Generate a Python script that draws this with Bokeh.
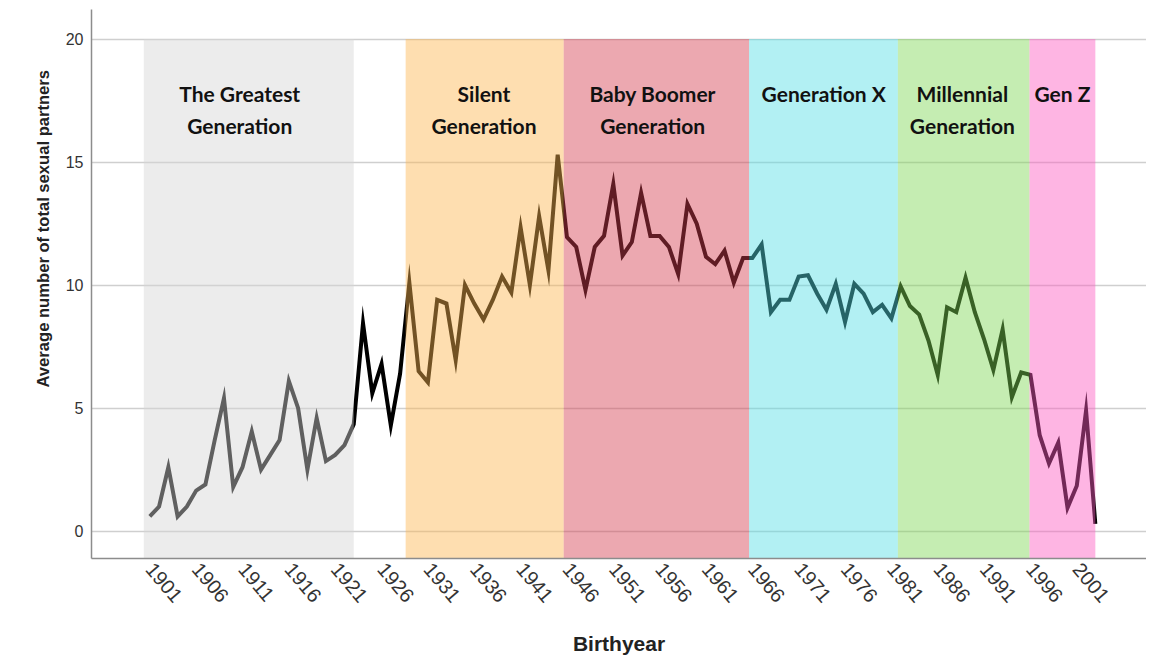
from math import pi
from bokeh.plotting import figure
from bokeh.models import Range1d, FixedTicker, Title, ColumnDataSource
from bokeh.core.properties import value
from bokeh.embed import file_html
from bokeh.resources import INLINE

# ---------------- data ----------------
years = list(range(1901, 2004))
partners = [
    0.6, 1.0, 2.6, 0.6, 1.0, 1.65, 1.9, 3.7, 5.4, 1.8,          # 1901-1910
    2.6, 4.05, 2.5, 3.1, 3.7, 6.1, 5.0, 2.5, 4.6, 2.85,        # 1911-1920
    3.1, 3.5, 4.35, 8.45, 5.6, 6.8, 4.3, 6.4, 10.1, 6.5,       # 1921-1930
    6.05, 9.4, 9.25, 6.95, 10.0, 9.25, 8.6, 9.4, 10.35, 9.7,   # 1931-1940
    12.35, 10.0, 12.8, 10.6, 15.3, 11.95, 11.55, 9.8, 11.55, 12.0,  # 1941-1950
    14.1, 11.2, 11.75, 13.75, 12.0, 12.0, 11.55, 10.45, 13.3, 12.5,  # 1951-1960
    11.15, 10.85, 11.4, 10.1, 11.1, 11.1, 11.65, 8.9, 9.4, 9.4,    # 1961-1970
    10.35, 10.4, 9.65, 9.0, 10.05, 8.5, 10.05, 9.65, 8.9, 9.2,     # 1971-1980
    8.65, 9.95, 9.15, 8.8, 7.75, 6.35, 9.1, 8.9, 10.3, 8.9,        # 1981-1990
    7.8, 6.55, 8.2, 5.45, 6.45, 6.35, 3.9, 2.75, 3.6, 0.95,        # 1991-2000
    1.85, 4.9, 0.3,                                                # 2001-2003
]

tick_years = list(range(1901, 2002, 5))
y_ticks = [0, 5, 10, 15, 20]

gen_line1 = ["The Greatest", "Silent", "Baby Boomer", "Generation X", "Millennial", "Gen Z"]
gen_line2 = ["Generation", "Generation", "Generation", "", "Generation", ""]
gen_start = [1900.35, 1928.6, 1945.65, 1965.65, 1981.7, 1995.9]
gen_end = [1923.0, 1945.65, 1965.65, 1981.7, 1995.9, 2003.0]
gen_colors = ["#d5d5d5", "#fdb64f", "#d53e4f", "#54dee4", "#7ed754", "#fd5bc1"]
gen_label_x = [1910.7, 1937.05, 1955.25, 1973.7, 1988.65, 1999.45]

x_title = "Birthyear"
y_title = "Average number of total sexual partners"

# ---------------- figure ----------------
y0, y1 = -1.11, 21.2
p = figure(width=1146, height=659,
           x_range=Range1d(1894.71, 2008.52), y_range=Range1d(y0, y1),
           output_backend="svg", toolbar_location=None,
           min_border_left=91, min_border_right=0,
           min_border_top=9, min_border_bottom=101)
p.outline_line_color = None
p.background_fill_color = "white"
p.border_fill_color = "white"

# grid
p.xgrid.visible = False
p.ygrid.ticker = FixedTicker(ticks=y_ticks)
p.ygrid.grid_line_color = "#cfcfcf"
p.ygrid.grid_line_width = 1.5

# axes
p.yaxis.ticker = FixedTicker(ticks=y_ticks)
p.xaxis.ticker = FixedTicker(ticks=tick_years)
for ax in (p.xaxis, p.yaxis):
    ax.axis_line_color = "#8c8c8c"
    ax.axis_line_width = 1.5
    ax.major_tick_line_color = None
    ax.minor_tick_line_color = None
    ax.major_tick_out = 0
    ax.major_tick_in = 0
    ax.major_label_text_font = "Liberation Sans"
    ax.major_label_text_color = "#333333"
p.yaxis.major_label_text_font_size = "16px"
p.yaxis.major_label_standoff = 8
p.xaxis.major_label_text_font_size = "20px"
p.xaxis.major_label_orientation = -0.87
p.xaxis.major_label_standoff = 7

p.xaxis.axis_label = x_title
p.xaxis.axis_label_text_font = "Liberation Sans"
p.xaxis.axis_label_text_font_style = "bold"
p.xaxis.axis_label_text_font_size = "21px"
p.xaxis.axis_label_text_color = "#222222"
p.xaxis.axis_label_standoff = 20

p.add_layout(Title(text=y_title, align="left", offset=171, standoff=19,
                   text_font="Liberation Sans", text_font_style="bold",
                   text_font_size="16.6px", text_color="#222222"), "left")

# line (drawn black; translucent bands on top tint it)
p.line(years, partners, line_color="black", line_width=4, line_join="miter")

# generation bands
band_src = ColumnDataSource(dict(left=gen_start, right=gen_end,
                                 bottom=[y0] * len(gen_start), top=[20] * len(gen_start),
                                 color=gen_colors))
p.quad(left="left", right="right", bottom="bottom", top="top", source=band_src,
       fill_color="color", fill_alpha=0.45, line_color=None)

# generation labels
lab_src = ColumnDataSource(dict(x=gen_label_x + gen_label_x,
                                y=[17.8] * len(gen_label_x) + [16.5] * len(gen_label_x),
                                t=gen_line1 + gen_line2))
p.text(x="x", y="y", text="t", source=lab_src, text_font=value("Lato"),
       text_font_style="bold", text_font_size="21px", text_color="#111111",
       text_align="center", text_baseline="middle")

open("out.html", "w").write(file_html(p, INLINE))
